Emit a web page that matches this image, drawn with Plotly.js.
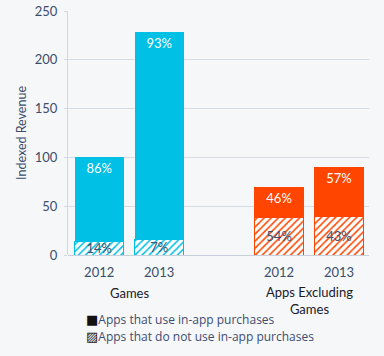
<!DOCTYPE html>
<html>
<head>
<meta charset="utf-8">
<script src="https://cdn.plot.ly/plotly-3.0.1.min.js"></script>
<style>html,body{margin:0;padding:0;background:#f6f7f9;}#chart{width:384px;height:356px;}</style>
</head>
<body>
<div id="chart"></div>
<script>
// Data
var positions = [0, 1, 3, 4];
var yearLabels = ['2012', '2013', '2012', '2013'];
var groupLabels = ['Games', 'Apps Excluding<br>Games'];
var groupCenters = [0.5, 3.5];
var withIAP = [86, 212, 32, 51];          // revenue from apps using in-app purchases
var withoutIAP = [14, 16, 38, 39];        // revenue from apps not using in-app purchases
var withIAPLabels = ['86%', '93%', '46%', '57%'];
var withoutIAPLabels = ['14%', '7%', '54%', '43%'];
var barColors = ['#00c0e6', '#00c0e6', '#ff4500', '#ff4500'];
var legendLabels = ['Apps that use in-app purchases', 'Apps that do not use in-app purchases'];

var fontFam = 'Lato, "Open Sans", sans-serif';
var tickColor = '#3a4d6b';

var traces = [
  {
    type: 'bar', x: positions, y: withoutIAP, name: legendLabels[1],
    width: 0.82,
    marker: {
      color: 'white',
      line: {color: barColors, width: 1},
      pattern: {shape: '/', fgcolor: barColors, bgcolor: 'white', size: 5, solidity: 0.3, fillmode: 'replace'}
    },
    text: withoutIAPLabels, textposition: 'inside', insidetextanchor: 'middle',
    textfont: {color: '#3d5070', family: fontFam, size: 13},
    hoverinfo: 'none', showlegend: false
  },
  {
    type: 'bar', x: positions, y: withIAP, name: legendLabels[0],
    width: 0.82,
    marker: {color: barColors, line: {width: 0}},
    text: withIAPLabels, textposition: 'inside', insidetextanchor: 'end',
    textfont: {color: 'white', family: fontFam, size: 13},
    hoverinfo: 'none', showlegend: false
  }
];

var annotations = [];
for (var i = 0; i < groupLabels.length; i++) {
  annotations.push({
    xref: 'x', yref: 'paper', x: groupCenters[i], y: i === 0 ? -0.156 : -0.11,
    yanchor: i === 0 ? 'middle' : 'top', text: groupLabels[i], showarrow: false,
    font: {family: fontFam, size: 13, color: '#1a1a2a'}
  });
}
var legendY = [-0.266, -0.336];
var legendIcons = [
  '<span style="font-family:DejaVu Sans;font-size:13px;color:#111">■</span>',
  '<span style="font-family:DejaVu Sans;font-size:13px;color:#111">▨</span>'
];
for (var j = 0; j < legendLabels.length; j++) {
  annotations.push({
    xref: 'paper', yref: 'paper', x: 0.052, y: legendY[j], xanchor: 'left', yanchor: 'middle',
    text: legendIcons[j] + legendLabels[j], showarrow: false,
    font: {family: '"Open Sans", Lato, sans-serif', size: 12, color: '#3d4d70'}
  });
}

var layout = {
  width: 384, height: 356,
  margin: {l: 68, r: 15, t: 11, b: 101},
  paper_bgcolor: '#f6f7f9', plot_bgcolor: '#f6f7f9',
  barmode: 'stack',
  showlegend: false,
  uniformtext: {mode: 'show', minsize: 12},
  font: {family: fontFam, color: tickColor},
  xaxis: {
    range: [-0.52, 4.5], tickmode: 'array', tickvals: positions, ticktext: yearLabels,
    showgrid: false, zeroline: false, showline: false, ticks: '',
    ticklabelstandoff: 8,
    tickfont: {size: 13, color: tickColor}, fixedrange: true
  },
  yaxis: {
    range: [0, 250], dtick: 50, tick0: 0,
    showgrid: true, gridcolor: '#d6dde5', gridwidth: 1,
    zeroline: true, zerolinecolor: '#c6cfda', zerolinewidth: 1,
    showline: true, linecolor: '#d0d8e0', linewidth: 1,
    ticks: 'outside', ticklen: 3, tickcolor: '#d0d8e0',
    ticklabelstandoff: 4,
    tickfont: {size: 13, color: tickColor},
    title: {text: 'Indexed Revenue', font: {size: 12.5, color: tickColor}, standoff: 5},
    fixedrange: true
  },
  annotations: annotations
};

Plotly.newPlot('chart', traces, layout, {displayModeBar: false, staticPlot: true});
</script>
</body>
</html>
